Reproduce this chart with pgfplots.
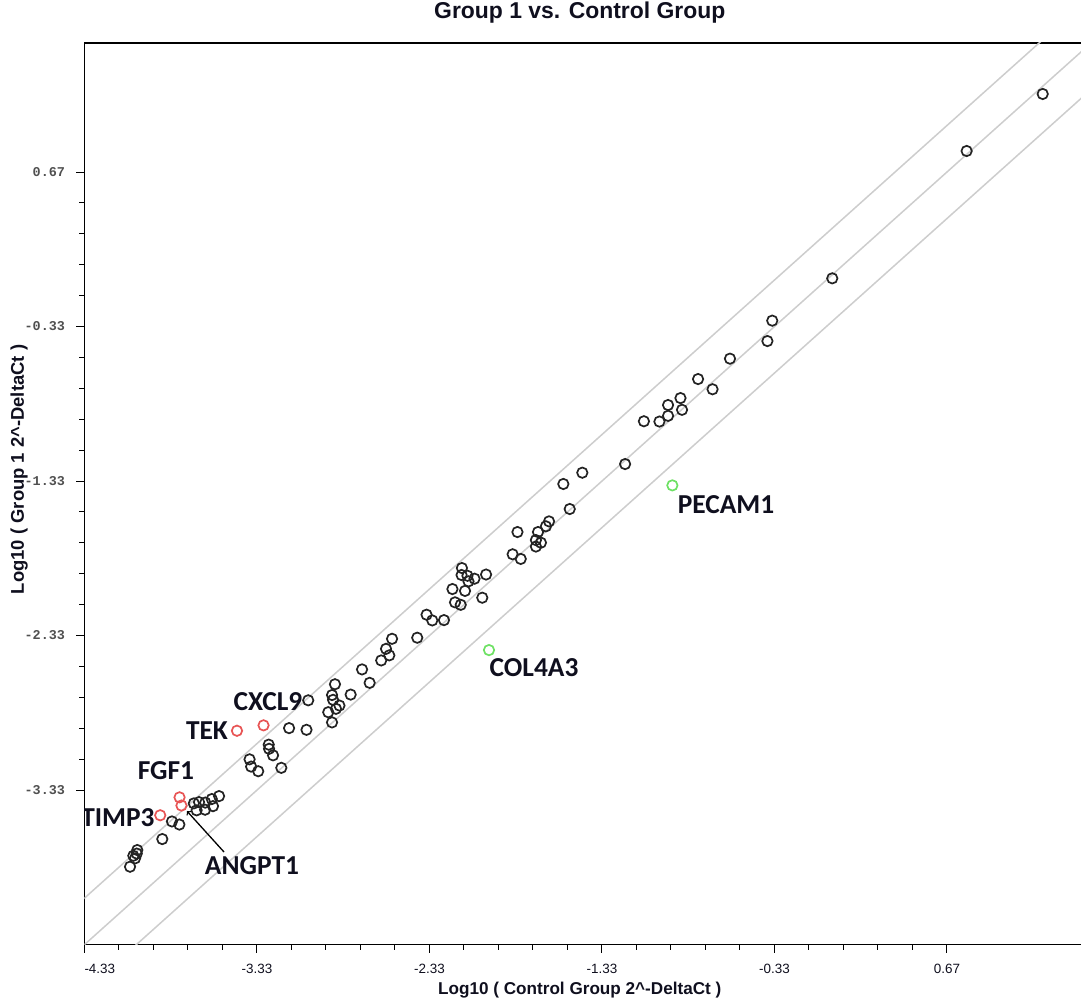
\documentclass[border=0pt]{standalone}
\usepackage{pgfplots}
\pgfplotsset{compat=1.18}
\usepackage{fontspec}
\setmainfont{Liberation Sans}
\newfontfamily\labfont{Carlito}
\newfontfamily\tickmono{Liberation Mono}
\definecolor{diag}{RGB}{205,205,205}
\definecolor{ptblack}{RGB}{35,35,35}
\definecolor{ptred}{RGB}{232,85,85}
\definecolor{ptgreen}{RGB}{110,225,100}
\definecolor{ticktext}{RGB}{80,80,80}
\definecolor{labtext}{RGB}{15,15,30}
\begin{document}
\begin{tikzpicture}
\begin{axis}[
 scale only axis, width=996.5bp, height=901.6bp,
 xmin=-4.33, xmax=1.447, ymin=-4.33, ymax=1.505,
 axis x line=box, axis y line=left,
 x axis line style={-}, y axis line style={-},
 axis line style={line width=1.3bp, black},
 xtick={-4.33,-3.33,-2.33,-1.33,-0.33,0.67},
 xticklabels={\makebox[0pt][l]{-4.33},-3.33,-2.33,-1.33,-0.33,0.67},
 ytick={-3.33,-2.33,-1.33,-0.33,0.67},
 yticklabels={-3.33,-2.33,-1.33,-0.33,0.67},
 minor tick num=4,
 tick align=outside, xtick pos=left, ytick pos=left,
 major tick length=8bp, minor tick length=5bp,
 tick style={line width=1bp, black},
 xticklabel style={font=\fontsize{13.5}{14}\selectfont, text=labtext, yshift=-8bp},
 yticklabel style={font=\tickmono\bfseries\fontsize{13.5}{14}\selectfont, text=ticktext, xshift=-8bp},
 title={Group 1 vs. Control Group},
 title style={at={(axis description cs:0.497,1.027)}, anchor=center, yshift=0pt, font=\bfseries\fontsize{23}{24}\selectfont, text=labtext},
 xlabel={Log10 ( Control Group 2\textasciicircum-DeltaCt )},
 xlabel style={at={(axis description cs:0.497,-0.0504)}, anchor=center, font=\bfseries\fontsize{17.2}{18}\selectfont, text=labtext},
 ylabel={Log10 ( Group 1 2\textasciicircum-DeltaCt )},
 ylabel style={at={(axis description cs:-0.0655,0.527)}, anchor=center, font=\bfseries\fontsize{18.5}{19}\selectfont, text=labtext},
 clip=true,
]
% fold-change reference lines
\addplot[diag, line width=1.5bp] coordinates {(-4.6,-4.6) (1.7,1.7)};
\addplot[diag, line width=1.5bp] coordinates {(-4.7,-4.399) (1.7,2.001)};
\addplot[diag, line width=1.5bp] coordinates {(-4.2,-4.501) (1.7,1.399)};
% genes
\addplot[only marks, mark=o, mark size=5.2bp, mark options={line width=1.7bp, draw=ptblack}] coordinates {
(1.225,1.175) (0.784,0.806) (0.005,-0.018) (-0.343,-0.292) (-0.371,-0.424)
(-0.588,-0.538) (-0.773,-0.670) (-0.689,-0.736) (-0.875,-0.793) (-0.947,-0.838)
(-0.866,-0.869) (-0.947,-0.908) (-0.997,-0.945) (-1.087,-0.943) (-1.196,-1.220)
(-1.444,-1.276) (-1.554,-1.349) (-1.517,-1.511) (-1.637,-1.591) (-1.655,-1.623)
(-1.701,-1.660) (-1.820,-1.660) (-1.713,-1.712) (-1.684,-1.729) (-1.713,-1.754)
(-1.848,-1.804) (-1.801,-1.834) (-2.142,-1.893) (-2.144,-1.938) (-2.110,-1.943)
(-2.069,-1.962) (-2.002,-1.935) (-2.104,-1.979) (-2.197,-2.029) (-2.124,-2.041)
(-2.024,-2.085) (-2.182,-2.115) (-2.149,-2.131) (-2.347,-2.195) (-2.314,-2.232)
(-2.246,-2.230) (-2.547,-2.351) (-2.401,-2.344) (-2.582,-2.416) (-2.563,-2.458)
(-2.610,-2.491) (-2.721,-2.549) (-2.677,-2.636) (-2.878,-2.645) (-2.787,-2.712)
(-3.033,-2.749) (-2.895,-2.715) (-2.889,-2.746) (-2.852,-2.783) (-2.872,-2.804)
(-2.917,-2.826) (-2.895,-2.892) (-3.144,-2.929) (-3.043,-2.940) (-3.262,-3.036)
(-3.260,-3.063) (-3.237,-3.105) (-3.189,-3.186) (-3.373,-3.131) (-3.364,-3.178)
(-3.323,-3.208) (-3.696,-3.416) (-3.666,-3.408) (-3.630,-3.411) (-3.592,-3.388)
(-3.550,-3.369) (-3.680,-3.461) (-3.631,-3.457) (-3.585,-3.434) (-3.823,-3.533)
(-3.780,-3.553) (-3.879,-3.647) (-4.024,-3.718) (-4.027,-3.741) (-4.047,-3.755)
(-4.037,-3.772) (-4.066,-3.826)
};
% up-regulated
\addplot[only marks, mark=o, mark size=5.2bp, mark options={line width=1.7bp, draw=ptred}] coordinates {
(-3.292,-2.911) (-3.446,-2.946) (-3.779,-3.377) (-3.768,-3.430) (-3.891,-3.493)
};
% down-regulated
\addplot[only marks, mark=o, mark size=5.2bp, mark options={line width=1.7bp, draw=ptgreen}] coordinates {
(-1.985,-2.424) (-0.922,-1.358)
};
\begin{scope}[font=\labfont\bfseries\fontsize{27.5}{28}\selectfont, text=labtext]
\node at (axis cs:-0.611,-1.485) {PECAM1};
\node at (axis cs:-1.724,-2.540) {COL4A3};
\node at (axis cs:-3.266,-2.760) {CXCL9};
\node at (axis cs:-3.620,-2.942) {TEK};
\node at (axis cs:-3.858,-3.207) {FGF1};
\node at (axis cs:-4.136,-3.505) {TIMP3};
\node at (axis cs:-3.359,-3.822) {ANGPT1};
\end{scope}
\draw[->, line width=1.3bp] (axis cs:-3.521,-3.731) -- (axis cs:-3.736,-3.466);
\end{axis}
\pgfresetboundingbox
\path[use as bounding box] ([xshift=-84.5bp,yshift=-57.4bp]current axis.south west) rectangle ([yshift=43bp]current axis.north east);
\end{tikzpicture}
\end{document}
